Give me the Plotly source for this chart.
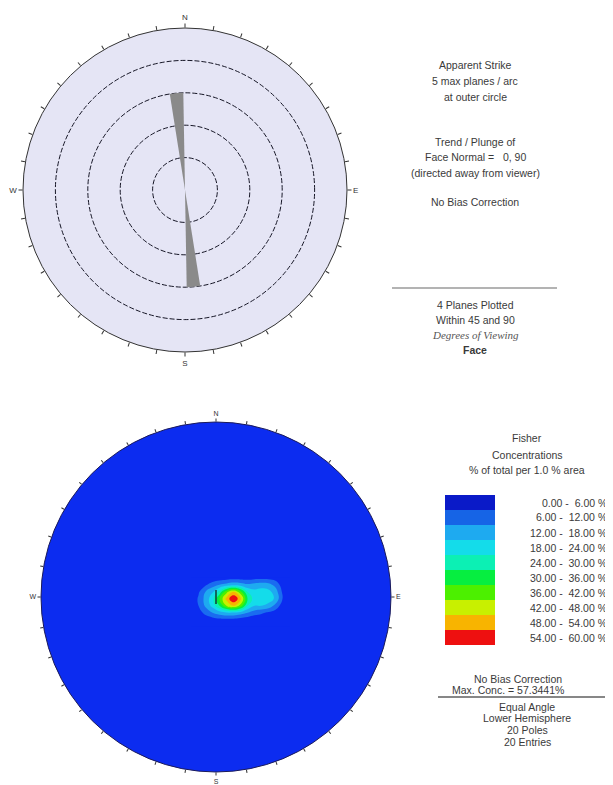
import plotly.graph_objects as go

# page window is 613x785; the html body adds an 8px margin, so the figure is sized to fit
PAGE_W, PAGE_H = 613, 785
OFF = 8
W, H = PAGE_W - OFF, PAGE_H - OFF

# ---------------- data ----------------
# Rose diagram of apparent strike (planes per bin)
rose_theta = [355, 175]
rose_count = [3, 3]
rose_width = [8, 8]
ring_values = [1, 2, 3, 4, 5]

compass_vals = list(range(0, 360, 10))
compass_text = {0: "N", 90: "E", 180: "S", 270: "W"}

# Fisher concentration grid (unit-circle coordinates, % of total per 1% area)
grid_x = [-0.14, -0.10, -0.06, -0.02, 0.02, 0.06, 0.10, 0.14, 0.18, 0.22, 0.26, 0.30, 0.34, 0.38, 0.42]
grid_y = [0.11, 0.07, 0.03, -0.01, -0.05, -0.09, -0.13, -0.17]
density = [
    [0, 0, 0, 1, 2, 3, 3, 3, 3, 4, 4, 4, 3, 1, 0],
    [0, 1, 5, 9, 12, 14, 16, 15, 13, 14, 15, 14, 10, 3, 0],
    [0, 5, 12, 17, 26, 40, 48, 38, 24, 20, 21, 20, 15, 5, 0],
    [0, 7, 14, 22, 36, 50, 60, 50, 30, 21, 22, 21, 17, 6, 0],
    [0, 6, 13, 20, 30, 42, 48, 40, 24, 18, 18, 16, 10, 3, 0],
    [0, 3, 8, 12, 15, 17, 17, 15, 12, 9, 7, 5, 3, 1, 0],
    [0, 0, 2, 3, 4, 4, 4, 3, 2, 1, 1, 0, 0, 0, 0],
    [0, 0, 0, 0, 0, 0, 0, 0, 0, 0, 0, 0, 0, 0, 0],
]
level_lo = [0, 6, 12, 18, 24, 30, 36, 42, 48, 54]
level_hi = [6, 12, 18, 24, 30, 36, 42, 48, 54, 60]
level_colors = ["#0a1ac8", "#1664e6", "#1eaaf0", "#14dcea", "#0cf0b4",
                "#06ee40", "#4cf000", "#c8f000", "#f8b400", "#ee1010"]
disc_blue = "#0c2cf0"
contour_colors = [disc_blue, "#1a6cf0"] + level_colors[2:]

max_conc = 57.3441

# ---------------- helpers (page pixel -> paper) ----------------
def px(x, y):
    return (x - OFF) / W, 1 - (y - OFF) / H

def dom_x(a, b):
    return [(a - OFF) / W, (b - OFF) / W]

def dom_y(top, bottom):
    return [1 - (bottom - OFF) / H, 1 - (top - OFF) / H]

FONT = "Liberation Sans, Arial, sans-serif"
TXT = "#3a3a3a"

fig = go.Figure()

# Rose diagram
fig.add_trace(go.Barpolar(
    r=rose_count, theta=rose_theta, width=rose_width,
    marker=dict(color="#8a8a8a", line=dict(width=0)),
    subplot="polar", showlegend=False, hoverinfo="skip"))

# disc for contour plot
fig.add_shape(type="circle", xref="x", yref="y", x0=-1, x1=1, y0=-1, y1=1,
              fillcolor=disc_blue, line=dict(width=0), layer="below")

# contour
fig.add_trace(go.Contour(
    x=grid_x, y=grid_y, z=density,
    autocontour=False,
    contours=dict(start=6, end=54, size=6, coloring="fill", showlines=False),
    colorscale=[[i / 9, c] for i, c in enumerate(contour_colors)],
    line=dict(width=0, smoothing=1.3),
    showscale=False, hoverinfo="skip", xaxis="x", yaxis="y"))

# centre mark
fig.add_trace(go.Scatter(x=[0], y=[0], mode="markers",
                         marker=dict(symbol="line-ns", size=10, line=dict(width=1.2, color="#111")),
                         xaxis="x", yaxis="y", showlegend=False, hoverinfo="skip"))

# legend swatches
fig.add_trace(go.Heatmap(
    z=[[i] for i in range(len(level_colors))], x=[0], y=list(range(len(level_colors))),
    colorscale=[[i / 9, c] for i, c in enumerate(level_colors)], zmin=0, zmax=9,
    showscale=False, xaxis="x2", yaxis="y2", hoverinfo="skip", xgap=0, ygap=0))

compass_ticktext = [compass_text.get(v, "") for v in compass_vals]

fig.update_layout(
    width=W, height=H, autosize=False,
    margin=dict(l=0, r=0, t=0, b=0),
    paper_bgcolor="white", plot_bgcolor="rgba(0,0,0,0)",
    showlegend=False,
    polar=dict(
        domain=dict(x=dom_x(23, 347), y=dom_y(28, 352)),
        bgcolor="#e5e5f5",
        radialaxis=dict(range=[0, 5], tickvals=ring_values, showticklabels=False, ticks="",
                        showline=False, showgrid=True, gridcolor="#151525", gridwidth=1.4,
                        griddash="5px,2px"),
        angularaxis=dict(rotation=90, direction="clockwise", tickmode="array",
                         tickvals=compass_vals, ticktext=compass_ticktext,
                         ticks="outside", ticklen=4, tickcolor="#333", tickwidth=1,
                         showline=True, linecolor="#333", linewidth=1, showgrid=False,
                         tickfont=dict(size=8, color="#333", family=FONT)),
    ),
    polar2=dict(
        domain=dict(x=dom_x(41, 391), y=dom_y(422, 772)),
        bgcolor="rgba(0,0,0,0)",
        radialaxis=dict(visible=False, range=[0, 1]),
        angularaxis=dict(rotation=90, direction="clockwise", tickmode="array",
                         tickvals=compass_vals, ticktext=compass_ticktext,
                         ticks="outside", ticklen=3, tickcolor="#333", tickwidth=1,
                         showline=True, linecolor="#1a1a5a", linewidth=1, showgrid=False,
                         tickfont=dict(size=7, color="#333", family=FONT)),
    ),
    xaxis=dict(domain=dom_x(41, 391), range=[-1, 1], visible=False, fixedrange=True),
    yaxis=dict(domain=dom_y(422, 772), range=[-1, 1], visible=False, fixedrange=True),
    xaxis2=dict(domain=dom_x(445, 495), range=[-0.5, 0.5], visible=False, fixedrange=True),
    yaxis2=dict(domain=dom_y(495, 645), range=[9.5, -0.5], visible=False, fixedrange=True),
)

# polar2 needs a trace to be drawn
fig.add_trace(go.Scatterpolar(r=[], theta=[], subplot="polar2", showlegend=False))

def note(text, x, y, size=10.5, color=TXT, family=FONT, xanchor="center"):
    xx, yy = px(x, y)
    fig.add_annotation(text=text, x=xx, y=yy, xref="paper", yref="paper",
                       showarrow=False, xanchor=xanchor, yanchor="middle",
                       font=dict(size=size, color=color, family=family))

NB = "\u00a0"
top_lines = [
    ("Apparent Strike", 65), ("5 max planes / arc", 81), ("at outer circle", 97),
    ("Trend / Plunge of", 142), ("Face Normal =" + NB * 3 + "0, 90", 157),
    ("(directed away from viewer)", 173), ("No Bias Correction", 202),
    ("4 Planes Plotted", 305), ("Within 45 and 90", 320),
]
for t, y in top_lines:
    note(t, 475, y)
note("<i>Degrees of Viewing</i>", 475, 335, size=11, color="#555",
     family="Liberation Serif, Times New Roman, serif")
note("<b>Face</b>", 475, 350)

x0, y0 = px(392, 288)
x1, _ = px(557, 288)
fig.add_shape(type="line", xref="paper", yref="paper", x0=x0, x1=x1, y0=y0, y1=y0,
              line=dict(color="#9a9a9a", width=1.5))

for t, y in [("Fisher", 438), ("Concentrations", 455), ("% of total per 1.0 % area", 470)]:
    note(t, 527, y)

for i, (lo, hi) in enumerate(zip(level_lo, level_hi)):
    lab = f"{lo:.2f}{NB}-{NB}{NB}{hi:.2f} %"
    note(lab, 609, 502.5 + 15 * i, xanchor="right")

note("No Bias Correction", 518, 679)
note(f"Max. Conc. = {max_conc:.4f}%", 508, 690)
x0, y0 = px(438, 697)
x1, _ = px(613, 697)
fig.add_shape(type="line", xref="paper", yref="paper", x0=x0, x1=x1, y0=y0, y1=y0,
              line=dict(color="#111", width=1.2))
for t, y in [("Equal Angle", 707), ("Lower Hemisphere", 718), ("20 Poles", 730), ("20 Entries", 742)]:
    note(t, 527, y)

fig.write_html("out.html")
